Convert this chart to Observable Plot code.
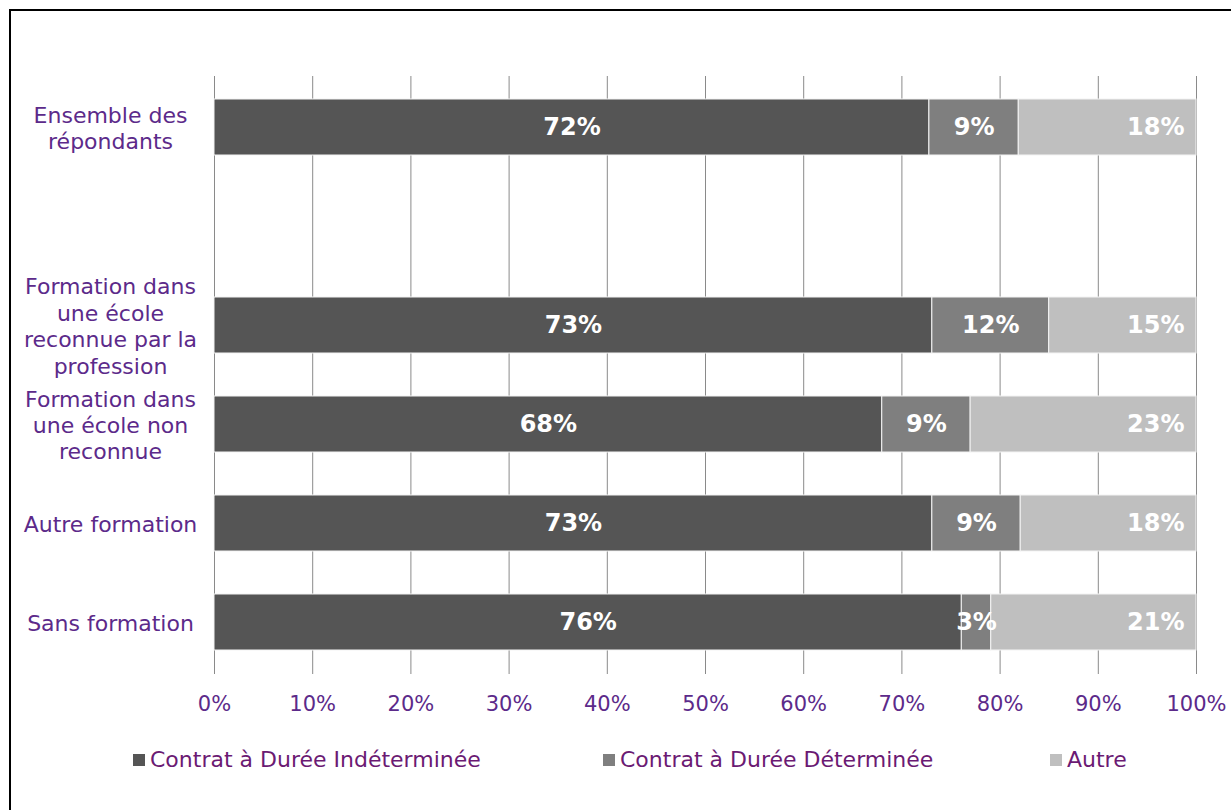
<!DOCTYPE html>
<html><head><meta charset="utf-8">
<script src="https://cdn.jsdelivr.net/npm/d3@7"></script>
<script src="https://cdn.jsdelivr.net/npm/@observablehq/plot@0.6"></script>
<style>
html,body{margin:0;padding:0;background:#fff;overflow:hidden;width:1231px;height:810px;}
#frame{position:absolute;left:9px;top:9px;width:1400px;height:1000px;border:2px solid #000;box-sizing:border-box;}
#chart{position:absolute;left:0;top:0;}
#legend{position:absolute;left:0;top:0;width:1231px;height:810px;font-family:"DejaVu Sans";font-size:22px;color:#6b1a73;}
.item{position:absolute;top:746px;height:27px;display:flex;align-items:center;white-space:nowrap;}
.sw{width:12px;height:12px;margin-right:5px;}
</style></head><body>
<div id="frame"></div><div id="chart"></div><div id="legend"></div>
<script>
const categories = ["Ensemble des répondants", "Formation dans une école reconnue par la profession", "Formation dans une école non reconnue", "Autre formation", "Sans formation"];
const categoryLines = [["Ensemble des","répondants"], ["Formation dans","une école","reconnue par la","profession"], ["Formation dans","une école non","reconnue"], ["Autre formation"], ["Sans formation"]];
const series = ["Contrat à Durée Indéterminée","Contrat à Durée Déterminée","Autre"];
const cdi   = [72.8, 73.1, 68.0, 73.1, 76.1];
const cdd   = [9.1, 11.9, 9.0, 9.0, 3.0];
const autre = [18.1, 15.0, 23.0, 17.9, 20.9];
const cdiLabels   = ["72%","73%","68%","73%","76%"];
const cddLabels   = ["9%","12%","9%","9%","3%"];
const autreLabels = ["18%","15%","23%","18%","21%"];
const xTicks = [0,10,20,30,40,50,60,70,80,90,100];
const colors = ["#555555","#7f7f7f","#bfbfbf"];
const spacer = "__spacer__";

const seriesValues = [cdi, cdd, autre];
const seriesLabels = [cdiLabels, cddLabels, autreLabels];
const rows = [];
categories.forEach((c, i) => {
  series.forEach((s, j) => {
    rows.push({cat: c, series: s, value: seriesValues[j][i], label: seriesLabels[j][i]});
  });
});
const yDomain = [categories[0], spacer, ...categories.slice(1)];
const lineMap = new Map(categories.map((c, i) => [c, categoryLines[i].join("\n")]));

const chart = Plot.plot({
  width: 1231, height: 730,
  marginLeft: 214, marginRight: 35, marginTop: 76, marginBottom: 56,
  style: {fontFamily: "DejaVu Sans", fontSize: "21px", background: "transparent", color: "#5c2a8a"},
  x: {domain: [0, 100], axis: null},
  y: {domain: yDomain, paddingInner: 0.43, paddingOuter: 0.215, axis: null},
  color: {domain: series, range: colors},
  marks: [
    Plot.gridX(xTicks, {stroke: "#8a8a8a", strokeOpacity: 1}),
    Plot.barX(rows, {y: "cat", x: "value", fill: "series", stroke: "#f4f4f4", strokeWidth: 1}),
    Plot.text(rows, Plot.stackX({y: "cat", x: "value", text: d => d.series !== "Autre" ? d.label : "", fill: "white", fontWeight: "bold", fontSize: 24})),
    Plot.text(rows, Plot.stackX2({y: "cat", x: "value", text: d => d.series === "Autre" ? d.label : "", fill: "white", fontWeight: "bold", fontSize: 24, textAnchor: "end", dx: -12})),
    Plot.axisX(xTicks, {label: null, tickSize: 0, tickPadding: 22, tickFormat: d => d + "%", fontSize: 21}),
    Plot.axisY(yDomain, {label: null, tickSize: 0, tickPadding: 0, tickFormat: d => d === spacer ? "" : lineMap.get(d), textAnchor: "middle", dx: -104, lineHeight: 1.2, fontSize: 22})
  ]
});
document.getElementById("chart").appendChild(chart);

const legendLeft = [133, 603, 1050];
const leg = document.getElementById("legend");
series.forEach((s, i) => {
  const it = document.createElement("div");
  it.className = "item";
  it.style.left = legendLeft[i] + "px";
  const sw = document.createElement("span");
  sw.className = "sw";
  sw.style.background = colors[i];
  const tx = document.createElement("span");
  tx.textContent = s;
  it.appendChild(sw); it.appendChild(tx);
  leg.appendChild(it);
});
</script>
</body></html>
